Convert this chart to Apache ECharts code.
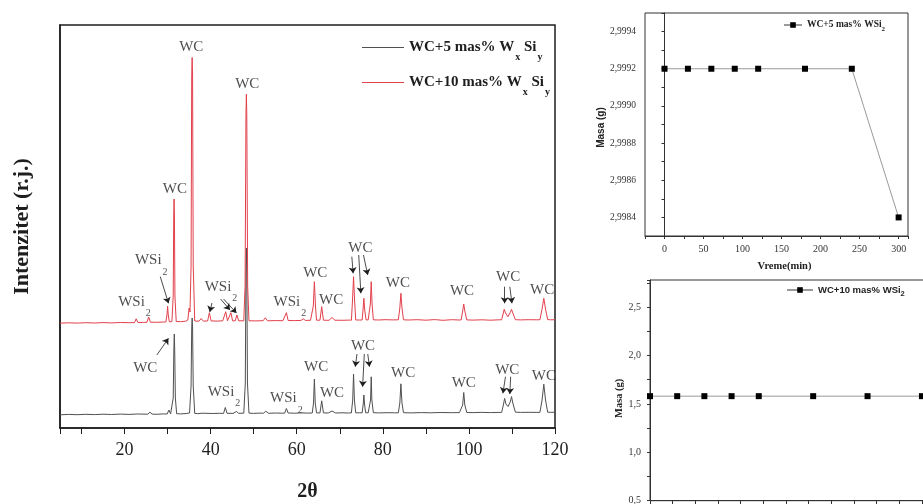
<!DOCTYPE html>
<html>
<head>
<meta charset="utf-8">
<script src="https://cdn.jsdelivr.net/npm/echarts@6/dist/echarts.min.js"></script>
<style>
  html, body { margin: 0; padding: 0; background: #fff; }
  #c { width: 923px; height: 504px; }
</style>
</head>
<body>
<div id="c"></div>
<script>
// ---------- XRD patterns: [2θ (deg), intensity (a.u.)] ----------
const pattern5 = [
  [5,132],[7,136],[9,133],[11,137],[13,134],[15,138],[17,135],[19,139],[21,136],[23,140],
  [25.4,138],[25.9,158],[26.4,139],[27.5,137],[29,141],
  [29.9,140],[30.3,180],[30.7,141],
  [31.0,142],[31.3,300],[31.45,780],[31.55,940],[31.65,780],[31.8,300],[32.1,143],
  [33,141],[34.3,145],
  [35.1,150],[35.45,420],[35.6,1000],[35.7,1100],[35.8,1000],[35.95,420],[36.3,146],
  [37,143],[38,148],[39.6,146],[40.5,145],[42,147],
  [43.0,146],[43.4,205],[43.8,147],[45.2,146],[46,165],[46.5,147],
  [47.7,148],[48.05,450],[48.2,1550],[48.3,1800],[48.4,1550],[48.55,450],[48.9,149],
  [50,146],[51.5,149],[52.3,148],[52.8,168],[53.5,147],[55,150],[56.5,148],
  [57.2,149],[57.6,195],[58.0,150],
  [59.5,148],[61,151],[62.5,149],
  [63.6,150],[63.9,250],[64.1,490],[64.3,250],[64.6,151],
  [65.4,151],[65.8,272],[66.2,151],
  [67.3,150],[68.2,170],[69,150],[70.5,152],[72,150],
  [72.7,151],[73.0,280],[73.2,540],[73.4,280],[73.7,152],
  [74.5,152],[75.2,152],[75.45,240],[75.6,330],[75.75,240],[76.0,153],
  [76.6,152],[76.9,153],[77.15,280],[77.3,512],[77.45,280],[77.8,153],
  [79,151],[81,153],[82.7,152],
  [83.6,152],[83.95,250],[84.2,442],[84.45,250],[84.8,153],
  [86.5,151],[89,154],[91,152],[93.5,155],[96,153],[97.8,154],
  [98.2,154],[98.55,230],[98.8,355],[99.05,230],[99.5,155],
  [101,154],[103,156],[105,154],[107,156],
  [107.6,156],[108.0,230],[108.3,296],[108.6,240],[109.1,215],[109.6,260],[109.9,314],[110.2,250],[110.8,158],
  [112,156],[114,157],[115.8,156],
  [116.5,157],[117.0,280],[117.4,438],[117.8,280],[118.3,158],
  [119,157],[120,157]
];

const pattern10 = [
  [5,128],[7,132],[9,129],[11,133],[13,130],[15,134],[17,131],[19,135],[21,133],
  [22.3,134],[22.7,172],[23.1,135],
  [24.2,136],[25.2,137],[25.6,190],[26.0,138],
  [27.5,137],[29.0,140],
  [29.6,140],[29.85,210],[30.0,298],[30.15,210],[30.4,142],
  [31.0,143],[31.3,400],[31.42,1200],[31.5,1370],[31.58,1200],[31.7,400],[32.0,145],
  [33.0,143],[34.2,148],
  [34.7,160],[35.0,280],[35.2,240],[35.45,700],[35.6,2600],[35.7,2785],[35.8,2600],[35.95,700],[36.3,150],
  [37.3,148],[37.8,175],[38.3,149],[39.3,150],[39.7,233],[40.1,151],
  [41.5,149],[42.8,152],[43.1,151],[43.5,243],[43.9,152],[44.3,153],[44.7,233],[45.1,152],
  [45.7,151],[46.1,210],[46.5,152],
  [47.7,152],[48.0,500],[48.2,2200],[48.3,2417],[48.4,2200],[48.6,500],[48.9,152],
  [50.5,151],[52.2,153],[52.7,182],[53.2,152],[55,154],[56.8,153],
  [57.2,154],[57.6,233],[58.0,155],
  [59.5,154],[61.0,156],[61.5,172],[62.0,156],[63.2,157],
  [63.6,157],[63.85,300],[64.1,543],[64.35,300],[64.6,158],
  [65.4,158],[65.8,293],[66.2,158],
  [67.5,157],[68.2,186],[68.8,158],[70.5,157],[72.2,159],
  [72.7,158],[72.95,350],[73.2,593],[73.45,350],[73.7,160],
  [74.6,160],[75.2,160],[75.4,260],[75.6,377],[75.8,260],[76.1,162],
  [76.6,161],[76.9,162],[77.1,320],[77.3,543],[77.5,320],[77.8,162],
  [79,160],[80.5,163],[82.4,161],
  [83.6,162],[83.95,280],[84.2,427],[84.45,280],[84.8,162],
  [86,160],[88,163],[90,158],[92,164],[94,157],[96,163],[97.7,160],
  [98.2,161],[98.55,250],[98.8,320],[99.05,250],[99.5,161],
  [101,159],[103,162],[105,158],[107,162],
  [107.6,162],[108.0,230],[108.2,267],[108.5,230],[109.05,193],[109.6,235],[109.9,267],[110.2,230],[110.8,163],
  [112,161],[114,163],[115.8,162],
  [116.5,163],[117.0,270],[117.4,377],[117.8,270],[118.3,164],
  [119,162],[120,163]
];

// vertical shift of the 10 mas% pattern so the two traces are stacked
const OFFSET_10 = 920;

// phase tags: [2θ, plotted intensity, phase]
const tags10 = [
  [35.5,3810,'WC'],[48.5,3440,'WC'],[31.7,2390,'WC'],[26.2,1680,'WSi2'],[22.3,1263,'WSi2'],
  [42.4,1413,'WSi2'],[58.4,1263,'WSi2'],[64.3,1547,'WC'],[68.0,1280,'WC'],[74.8,1797,'WC'],
  [83.5,1447,'WC'],[98.4,1373,'WC'],[109.1,1513,'WC'],[117.0,1380,'WC']
];
const tags5 = [
  [24.8,597,'WC'],[43.1,363,'WSi2'],[57.6,297,'WSi2'],[64.5,613,'WC'],[68.2,347,'WC'],
  [75.4,823,'WC'],[84.7,553,'WC'],[98.8,447,'WC'],[108.9,580,'WC'],[117.4,520,'WC']
];

// arrows from a tag to its reflection: [[2θ, I] start, [2θ, I] tip]
const tagArrows = [
  [[28.3,1513],[30.2,1247]],
  [[40.3,1250],[39.8,1160]],
  [[42.3,1290],[44.5,1180]],
  [[43.0,1290],[46.0,1150]],
  [[72.8,1713],[73.1,1547]],
  [[74.4,1730],[74.9,1347]],
  [[75.5,1730],[76.5,1530]],
  [[108.3,1413],[108.3,1247]],
  [[109.5,1413],[110.0,1247]],
  [[27.5,730],[30.2,897]],
  [[74.0,740],[73.6,613]],
  [[75.7,740],[75.3,413]],
  [[76.5,740],[76.9,613]],
  [[108.5,513],[107.9,347]],
  [[109.7,513],[109.5,340]]
];

// ---------- mass vs. time ----------
const timeMin = [0, 30, 60, 90, 120, 180, 240, 300];
const mass5 = [2.9992, 2.9992, 2.9992, 2.9992, 2.9992, 2.9992, 2.9992, 2.9984];
const mass10 = [1.58, 1.58, 1.58, 1.58, 1.58, 1.58, 1.58, 1.58];

const NAME_P5 = 'WC+5 mas% WxSiy';
const NAME_P10 = 'WC+10 mas% WxSiy';
const NAME_M5 = 'WC+5 mas% WSi2';
const NAME_M10 = 'WC+10 mas% WSi2';

const SERIF = '"Liberation Serif", "Times New Roman", serif';
const SANS = '"Liberation Sans", Arial, sans-serif';
const INK = '#1e1e1e';

const comma = (v, d) => v.toFixed(d).replace('.', ',');
const isStep = (v, step) => Math.abs(v / step - Math.round(v / step)) < 1e-6;

const legendRich = {
  [NAME_P5]: '{b|WC+5 mas% W}{s|x}{b| Si}{s|y}',
  [NAME_P10]: '{b|WC+10 mas% W}{s|x}{b| Si}{s|y}',
  [NAME_M5]: '{b|WC+5 mas% WSi}{s|2}',
  [NAME_M10]: '{b|WC+10 mas% WSi}{s|2}'
};

const bigLegendRich = {
  b: { fontSize: 15, fontWeight: 'bold', fontFamily: SERIF, color: INK },
  s: { fontSize: 10, fontWeight: 'bold', fontFamily: SERIF, color: INK, padding: [20, 0, 0, 1] }
};

const chart = echarts.init(document.getElementById('c'));

const option = {
  animation: false,
  backgroundColor: '#fff',
  grid: [
    { left: 60, right: 368, top: 25, bottom: 76, outerBoundsMode: 'none',
      show: true, borderColor: INK, borderWidth: 1.5 },
    { left: 645, right: 15, top: 13, bottom: 268, outerBoundsMode: 'none',
      show: true, borderColor: '#333', borderWidth: 1 },
    { left: 650, right: -8, top: 280, bottom: 3.3, outerBoundsMode: 'none',
      show: true, borderColor: '#333', borderWidth: 1 }
  ],
  xAxis: [
    {
      gridIndex: 0, type: 'value', min: 5, max: 120, splitNumber: 12,
      axisLine: { lineStyle: { color: INK, width: 1.5 } },
      axisTick: { length: 6, lineStyle: { color: INK, width: 1 } },
      axisLabel: { margin: 13, fontSize: 18, fontFamily: SERIF, color: INK,
        formatter: v => (isStep(v, 20) ? String(v) : '') },
      splitLine: { show: false },
      name: '2θ', nameLocation: 'middle', nameGap: 54,
      nameTextStyle: { fontSize: 20, fontWeight: 'bold', fontFamily: SERIF, color: INK }
    },
    {
      gridIndex: 1, type: 'value', min: -25, max: 312, interval: 25,
      axisLine: { lineStyle: { color: '#333' } },
      axisTick: { length: 3, lineStyle: { color: '#333' } },
      axisLabel: { margin: 8, fontSize: 10, fontFamily: SERIF, color: '#333',
        formatter: v => (isStep(v, 50) ? String(v) : '') },
      splitLine: { show: false },
      name: 'Vreme(min)', nameLocation: 'middle', nameGap: 25,
      nameTextStyle: { fontSize: 10.5, fontWeight: 'bold', fontFamily: SERIF, color: '#222',
        padding: [0, 0, 0, 16] }
    },
    {
      gridIndex: 2, type: 'value', min: 0, max: 310, interval: 25,
      axisLine: { lineStyle: { color: '#333' } },
      axisTick: { length: 4, lineStyle: { color: '#333' } },
      axisLabel: { margin: 6, fontSize: 10, fontFamily: SERIF, color: '#333',
        formatter: v => (isStep(v, 50) ? String(v) : '') },
      splitLine: { show: false }
    }
  ],
  yAxis: [
    {
      gridIndex: 0, type: 'value', min: 0, max: 4030,
      axisLine: { show: true, lineStyle: { color: INK, width: 1.5 } },
      axisTick: { show: false }, axisLabel: { show: false }, splitLine: { show: false },
      name: 'Intenzitet (r.j.)', nameLocation: 'middle', nameGap: 27,
      nameTextStyle: { fontSize: 22, fontWeight: 'bold', fontFamily: SERIF, color: INK }
    },
    {
      gridIndex: 1, type: 'value', min: 2.9983, max: 2.9995, interval: 0.0001,
      axisLine: { show: true, lineStyle: { color: '#333' } },
      axisTick: { length: 3, lineStyle: { color: '#333' } },
      axisLabel: { margin: 9, fontSize: 9.5, fontFamily: SERIF, color: '#333',
        formatter: v => (isStep(v, 0.0002) ? comma(v, 4) : '') },
      splitLine: { show: false },
      name: 'Masa (g)', nameLocation: 'middle', nameGap: 36,
      nameTextStyle: { fontSize: 10, fontWeight: 'bold', fontFamily: SANS, color: '#222',
        padding: [0, 6, 0, 0] }
    },
    {
      gridIndex: 2, type: 'value', min: 0.5, max: 2.78, interval: 0.25,
      axisLine: { show: true, lineStyle: { color: '#333' } },
      axisTick: { length: 3, lineStyle: { color: '#333' } },
      axisLabel: { margin: 9, fontSize: 10, fontFamily: SERIF, color: '#333',
        formatter: v => (isStep(v, 0.5) ? comma(v, 1) : '') },
      splitLine: { show: false },
      name: 'Masa (g)', nameLocation: 'middle', nameGap: 22,
      nameTextStyle: { fontSize: 10.5, fontWeight: 'bold', fontFamily: SERIF, color: '#222',
        padding: [0, 16, 0, 0] }
    }
  ],
  legend: [
    {
      data: [NAME_P5], left: 357, top: 35, itemWidth: 42, itemHeight: 1.2, icon: 'rect',
      formatter: n => legendRich[n], textStyle: { rich: bigLegendRich }
    },
    {
      data: [NAME_P10], left: 357, top: 70, itemWidth: 42, itemHeight: 1.2, icon: 'rect',
      formatter: n => legendRich[n], textStyle: { rich: bigLegendRich }
    },
    {
      data: [NAME_M5], left: 778, top: 15, itemWidth: 18, itemHeight: 7,
      formatter: n => legendRich[n],
      textStyle: { rich: {
        b: { fontSize: 9.5, fontWeight: 'bold', fontFamily: SERIF, color: '#222' },
        s: { fontSize: 7, fontWeight: 'bold', fontFamily: SERIF, color: '#222', padding: [8, 0, 0, 0] }
      } }
    },
    {
      data: [NAME_M10], left: 781, top: 280, itemWidth: 26, itemHeight: 7,
      formatter: n => legendRich[n],
      textStyle: { rich: {
        b: { fontSize: 9.5, fontWeight: 'bold', fontFamily: SANS, color: '#222' },
        s: { fontSize: 7.5, fontWeight: 'bold', fontFamily: SANS, color: '#222', padding: [8, 0, 0, 0] }
      } }
    }
  ],
  series: [
    {
      name: NAME_P5, type: 'line', xAxisIndex: 0, yAxisIndex: 0,
      data: pattern5, symbol: 'none', lineStyle: { color: '#505050', width: 1 },
      itemStyle: { color: '#505050' }
    },
    {
      name: NAME_P10, type: 'line', xAxisIndex: 0, yAxisIndex: 0,
      data: pattern10.map(([t, v]) => [t, v + OFFSET_10]), symbol: 'none',
      lineStyle: { color: '#e2404b', width: 1 }, itemStyle: { color: '#e2404b' }
    },
    {
      name: 'tags', type: 'scatter', xAxisIndex: 0, yAxisIndex: 0, silent: true,
      data: tags10.concat(tags5), symbolSize: 1, itemStyle: { color: 'rgba(0,0,0,0)' },
      label: {
        show: true, position: 'inside',
        formatter: p => (p.value[2] === 'WSi2' ? '{m|WSi}{s|2}' : '{m|' + p.value[2] + '}'),
        rich: {
          m: { fontSize: 15, fontFamily: SERIF, color: INK },
          s: { fontSize: 10, fontFamily: SERIF, color: INK, padding: [24, 0, 0, 1] }
        }
      },
      markLine: {
        silent: true, symbol: ['none', 'arrow'], symbolSize: 6,
        label: { show: false },
        lineStyle: { color: INK, width: 0.8, type: 'solid' },
        data: tagArrows.map(([a, b]) => [{ coord: a }, { coord: b }])
      }
    },
    {
      name: NAME_M5, type: 'line', xAxisIndex: 1, yAxisIndex: 1,
      data: timeMin.map((t, i) => [t, mass5[i]]),
      symbol: 'rect', symbolSize: 6,
      itemStyle: { color: '#000' }, lineStyle: { color: '#9a9a9a', width: 1 }
    },
    {
      name: NAME_M10, type: 'line', xAxisIndex: 2, yAxisIndex: 2,
      data: timeMin.map((t, i) => [t, mass10[i]]),
      symbol: 'rect', symbolSize: 6,
      itemStyle: { color: '#000' }, lineStyle: { color: '#9a9a9a', width: 1 }
    }
  ]
};

chart.setOption(option);
</script>
</body>
</html>
